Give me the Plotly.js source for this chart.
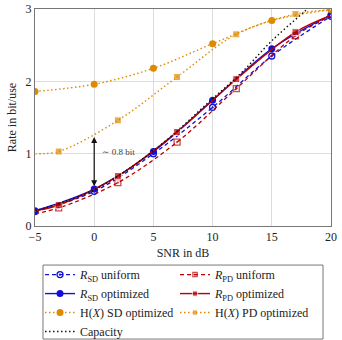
<!DOCTYPE html>
<html>
<head>
<meta charset="utf-8">
<script src="https://cdn.plot.ly/plotly-3.0.1.min.js"></script>
<style>
  html, body { margin: 0; padding: 0; background: #fff; }
  #plot { width: 342px; height: 340px; }
</style>
</head>
<body>
<div id="plot"></div>
<script>
// SNR grids (dB)
let snrSD = [-5, 0, 5, 10, 15, 20];
let snrPD = [-5, -3, 2, 7, 12, 17, 20];
let snrCap = [-5, 0, 5, 10, 12.5, 15, 18, 20];

// rates in bit/use
let rsdUniform = [0.2, 0.48, 1.0, 1.64, 2.35, 2.9];
let rsdOptimized = [0.21, 0.51, 1.03, 1.74, 2.45, 2.92];
let rpdUniform = [0.17, 0.25, 0.6, 1.16, 1.9, 2.63, 2.9];
let rpdOptimized = [0.21, 0.29, 0.69, 1.3, 2.03, 2.68, 2.91];
let hxSD = [1.86, 1.96, 2.18, 2.52, 2.84, 2.99];
let hxPD = [1.0, 1.03, 1.46, 2.06, 2.65, 2.93, 2.99];
let capacity = [0.21, 0.5, 1.04, 1.76, 2.13, 2.56, 3.0, 3.3];

let blue = '#1010d8';
let red = '#b80000';
let orange = '#dd8a00';
let pdSizes = [0, 6, 6, 6, 6, 6, 0];
let dots = '1.5px,2.5px';

// left legend column: SD + capacity, right column: PD
let data = [
  {
    x: snrSD, y: rsdUniform, mode: 'lines+markers', legend: 'legend',
    name: '<i>R</i><sub>SD</sub> uniform',
    line: {color: blue, width: 1.3, dash: '4px,3px', shape: 'spline'},
    marker: {color: blue, size: 6, symbol: 'circle-open-dot', line: {width: 1.3, color: blue}}
  },
  {
    x: snrPD, y: rpdUniform, mode: 'lines+markers', legend: 'legend2',
    name: '<i>R</i><sub>PD</sub> uniform',
    line: {color: red, width: 1.3, dash: '4px,3px', shape: 'spline'},
    marker: {color: red, size: pdSizes, symbol: 'square-open-dot', line: {width: 1.3, color: red}}
  },
  {
    x: snrSD, y: rsdOptimized, mode: 'lines+markers', legend: 'legend',
    name: '<i>R</i><sub>SD</sub> optimized',
    line: {color: blue, width: 1.4, shape: 'spline'},
    marker: {color: blue, size: 7, symbol: 'circle'}
  },
  {
    x: snrPD, y: rpdOptimized, mode: 'lines+markers', legend: 'legend2',
    name: '<i>R</i><sub>PD</sub> optimized',
    line: {color: red, width: 1.4, shape: 'spline'},
    marker: {color: red, size: pdSizes.map(s => s + 1), symbol: 'square'}
  },
  {
    x: snrSD, y: hxSD, mode: 'lines+markers', legend: 'legend',
    name: 'H(<i>X</i>) SD optimized',
    line: {color: orange, width: 1.4, dash: dots, shape: 'spline'},
    marker: {color: orange, size: 7, symbol: 'circle'}
  },
  {
    x: snrPD, y: hxPD, mode: 'lines+markers', legend: 'legend2',
    name: 'H(<i>X</i>) PD optimized',
    line: {color: orange, width: 1.4, dash: dots, shape: 'spline'},
    marker: {color: orange, size: pdSizes.map(s => s + 1), symbol: 'square'}
  },
  {
    x: snrCap, y: capacity, mode: 'lines', legend: 'legend',
    name: 'Capacity',
    line: {color: '#111', width: 1.4, dash: dots, shape: 'spline'}
  }
];

let font = {family: 'Liberation Serif, DejaVu Serif, serif', size: 12, color: '#222'};
let legendFont = {family: font.family, size: 12, color: '#222'};
let legendTop = -0.157;

let layout = {
  width: 342, height: 340,
  margin: {l: 35, r: 11, t: 9, b: 114, autoexpand: false},
  paper_bgcolor: '#fff', plot_bgcolor: '#fff',
  font: font,
  showlegend: true,
  xaxis: {
    range: [-5, 20], tickvals: [-5, 0, 5, 10, 15, 20],
    ticktext: ['\u22125', '0', '5', '10', '15', '20'],
    showgrid: true, gridcolor: '#dcdcdc', gridwidth: 1,
    zeroline: false, showline: true, linecolor: '#777', linewidth: 1, mirror: true,
    ticks: '', tickfont: {size: 12},
    title: {text: 'SNR in dB', font: {size: 12}, standoff: 5}
  },
  yaxis: {
    range: [0, 3], tickvals: [0, 1, 2, 3],
    showgrid: true, gridcolor: '#dcdcdc', gridwidth: 1,
    zeroline: false, showline: true, linecolor: '#777', linewidth: 1, mirror: true,
    ticks: '', tickfont: {size: 12},
    title: {text: 'Rate in bit/use', font: {size: 12}, standoff: 6}
  },
  legend: {
    orientation: 'v', x: 0.017, xanchor: 'left', y: legendTop, yanchor: 'top',
    borderwidth: 0, bgcolor: 'rgba(0,0,0,0)', font: legendFont, itemwidth: 30
  },
  legend2: {
    orientation: 'v', x: 0.473, xanchor: 'left', y: legendTop, yanchor: 'top',
    borderwidth: 0, bgcolor: 'rgba(0,0,0,0)', font: legendFont, itemwidth: 30
  },
  shapes: [
    {
      type: 'rect', xref: 'paper', yref: 'paper',
      x0: 0.027, x1: 0.973, y0: -0.18, y1: -0.521,
      line: {color: '#777', width: 1}, fillcolor: 'rgba(0,0,0,0)', layer: 'below'
    }
  ],
  annotations: [
    {
      x: 0, y: 0.55, ax: 0, ay: 1.25, xref: 'x', yref: 'y', axref: 'x', ayref: 'y',
      text: '', showarrow: true, arrowhead: 2, startarrowhead: 2, arrowside: 'end+start',
      arrowwidth: 1.2, arrowcolor: '#111', arrowsize: 1, startarrowsize: 1
    },
    {
      x: 0.45, y: 1.02, xref: 'x', yref: 'y', xanchor: 'left', yanchor: 'middle',
      text: '\u223C 0.8 bit', showarrow: false,
      font: {family: font.family, size: 9, color: '#444'}
    }
  ]
};

Plotly.newPlot('plot', data, layout, {displayModeBar: false, staticPlot: true});
</script>
</body>
</html>
